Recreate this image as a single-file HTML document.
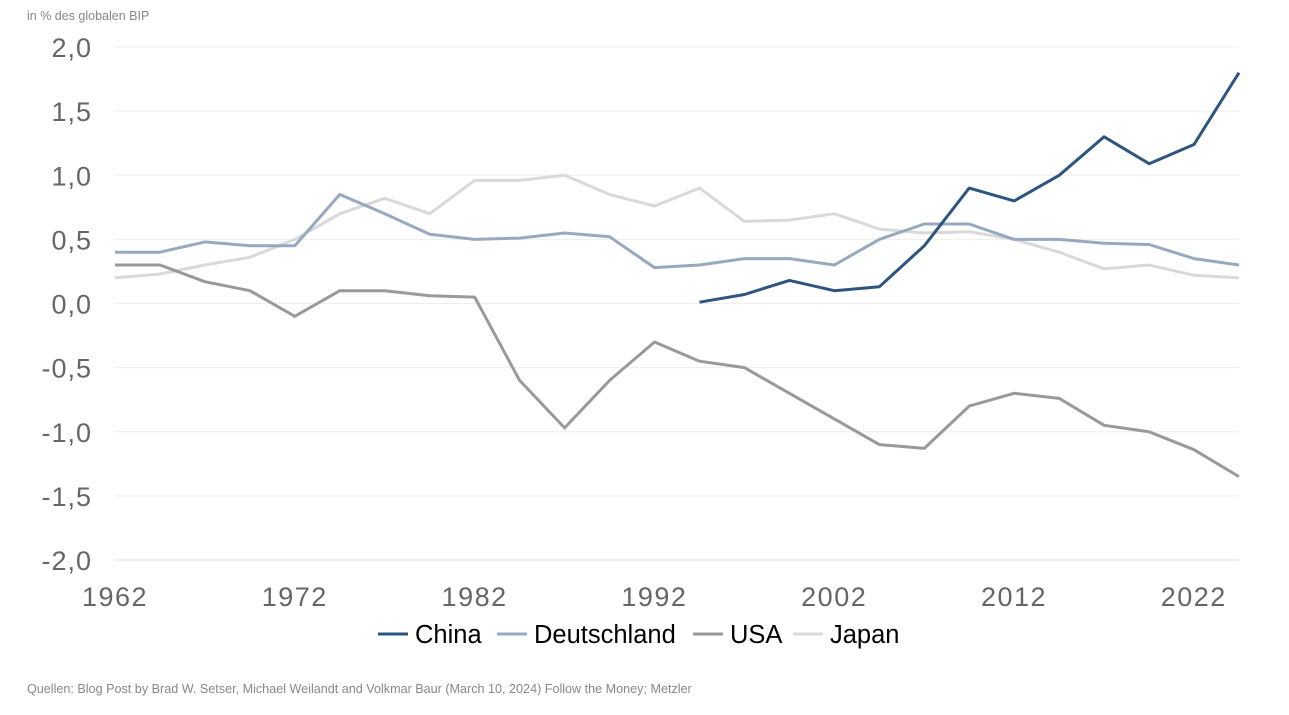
<!DOCTYPE html>
<html><head><meta charset="utf-8"><style>
body{margin:0;background:#fff;font-family:"Liberation Sans",sans-serif}
</style></head><body>
<svg id="s" width="1289" height="710" xmlns="http://www.w3.org/2000/svg" font-family="Liberation Sans, sans-serif">
<text x="27" y="20" font-size="12.5" fill="#888">in % des globalen BIP</text>
<g id="grid"></g>
<g id="lines"></g>
<g font-size="25.5" fill="#000">
<line x1="378" y1="634" x2="408" y2="634" stroke="#2e5580" stroke-width="3"/><text x="415" y="643">China</text>
<line x1="497" y1="634" x2="527" y2="634" stroke="#97a9bf" stroke-width="3"/><text x="534" y="643">Deutschland</text>
<line x1="693" y1="634" x2="723" y2="634" stroke="#999" stroke-width="3"/><text x="730" y="643">USA</text>
<line x1="793" y1="634" x2="823" y2="634" stroke="#d9d9d9" stroke-width="3"/><text x="830" y="643">Japan</text>
</g>
<text x="27" y="693" font-size="12.6" fill="#888">Quellen: Blog Post by Brad W. Setser, Michael Weilandt and Volkmar Baur (March 10, 2024) Follow the Money; Metzler</text>
</svg>
<script>
var NS="http://www.w3.org/2000/svg";
function el(p,t,a,txt){var e=document.createElementNS(NS,t);for(var k in a)e.setAttribute(k,a[k]);if(txt!=null)e.textContent=txt;p.appendChild(e);return e;}
var g=document.getElementById("grid"),L=document.getElementById("lines");
function Y(v){return 303.5-128.25*v;}
var labs=["2,0","1,5","1,0","0,5","0,0","-0,5","-1,0","-1,5","-2,0"];
for(var i=0;i<9;i++){var v=2-i*0.5,y=Y(v);
el(g,"line",{x1:115,x2:1239,y1:y,y2:y,stroke:i==8?"#ddd":"#eee","stroke-width":1});
el(g,"text",{x:92,y:y+10,"font-size":27,"letter-spacing":1,fill:"#666","text-anchor":"end"},labs[i]);}
var yrs=[1962,1972,1982,1992,2002,2012,2022];
yrs.forEach(function(yr,i){var x=115+i*179.8;el(g,"text",{x:x,y:606,"font-size":27,"letter-spacing":1.5,fill:"#666","text-anchor":"middle"},yr);});
function X(i){return 115+i*44.96;}
function line(vals,start,col){var pts=vals.map(function(v,i){return X(i+start).toFixed(1)+","+Y(v).toFixed(1)}).join(" ");
el(L,"polyline",{points:pts,fill:"none",stroke:col,"stroke-width":3,"stroke-linejoin":"round"});}
line([0.2,0.23,0.3,0.36,0.5,0.7,0.82,0.7,0.96,0.96,1.0,0.85,0.76,0.9,0.64,0.65,0.7,0.58,0.55,0.56,0.5,0.4,0.27,0.3,0.22,0.2],0,"#d9d9d9");
line([0.3,0.3,0.17,0.1,-0.1,0.1,0.1,0.06,0.05,-0.6,-0.97,-0.6,-0.3,-0.45,-0.5,-0.7,-0.9,-1.1,-1.13,-0.8,-0.7,-0.74,-0.95,-1.0,-1.14,-1.35],0,"#999");
line([0.4,0.4,0.48,0.45,0.45,0.85,0.7,0.54,0.5,0.51,0.55,0.52,0.28,0.3,0.35,0.35,0.3,0.5,0.62,0.62,0.5,0.5,0.47,0.46,0.35,0.3],0,"#97a9bf");
line([0.01,0.07,0.18,0.1,0.13,0.45,0.9,0.8,1.0,1.3,1.09,1.24,1.8],13,"#2e5580");
</script>
</body></html>
